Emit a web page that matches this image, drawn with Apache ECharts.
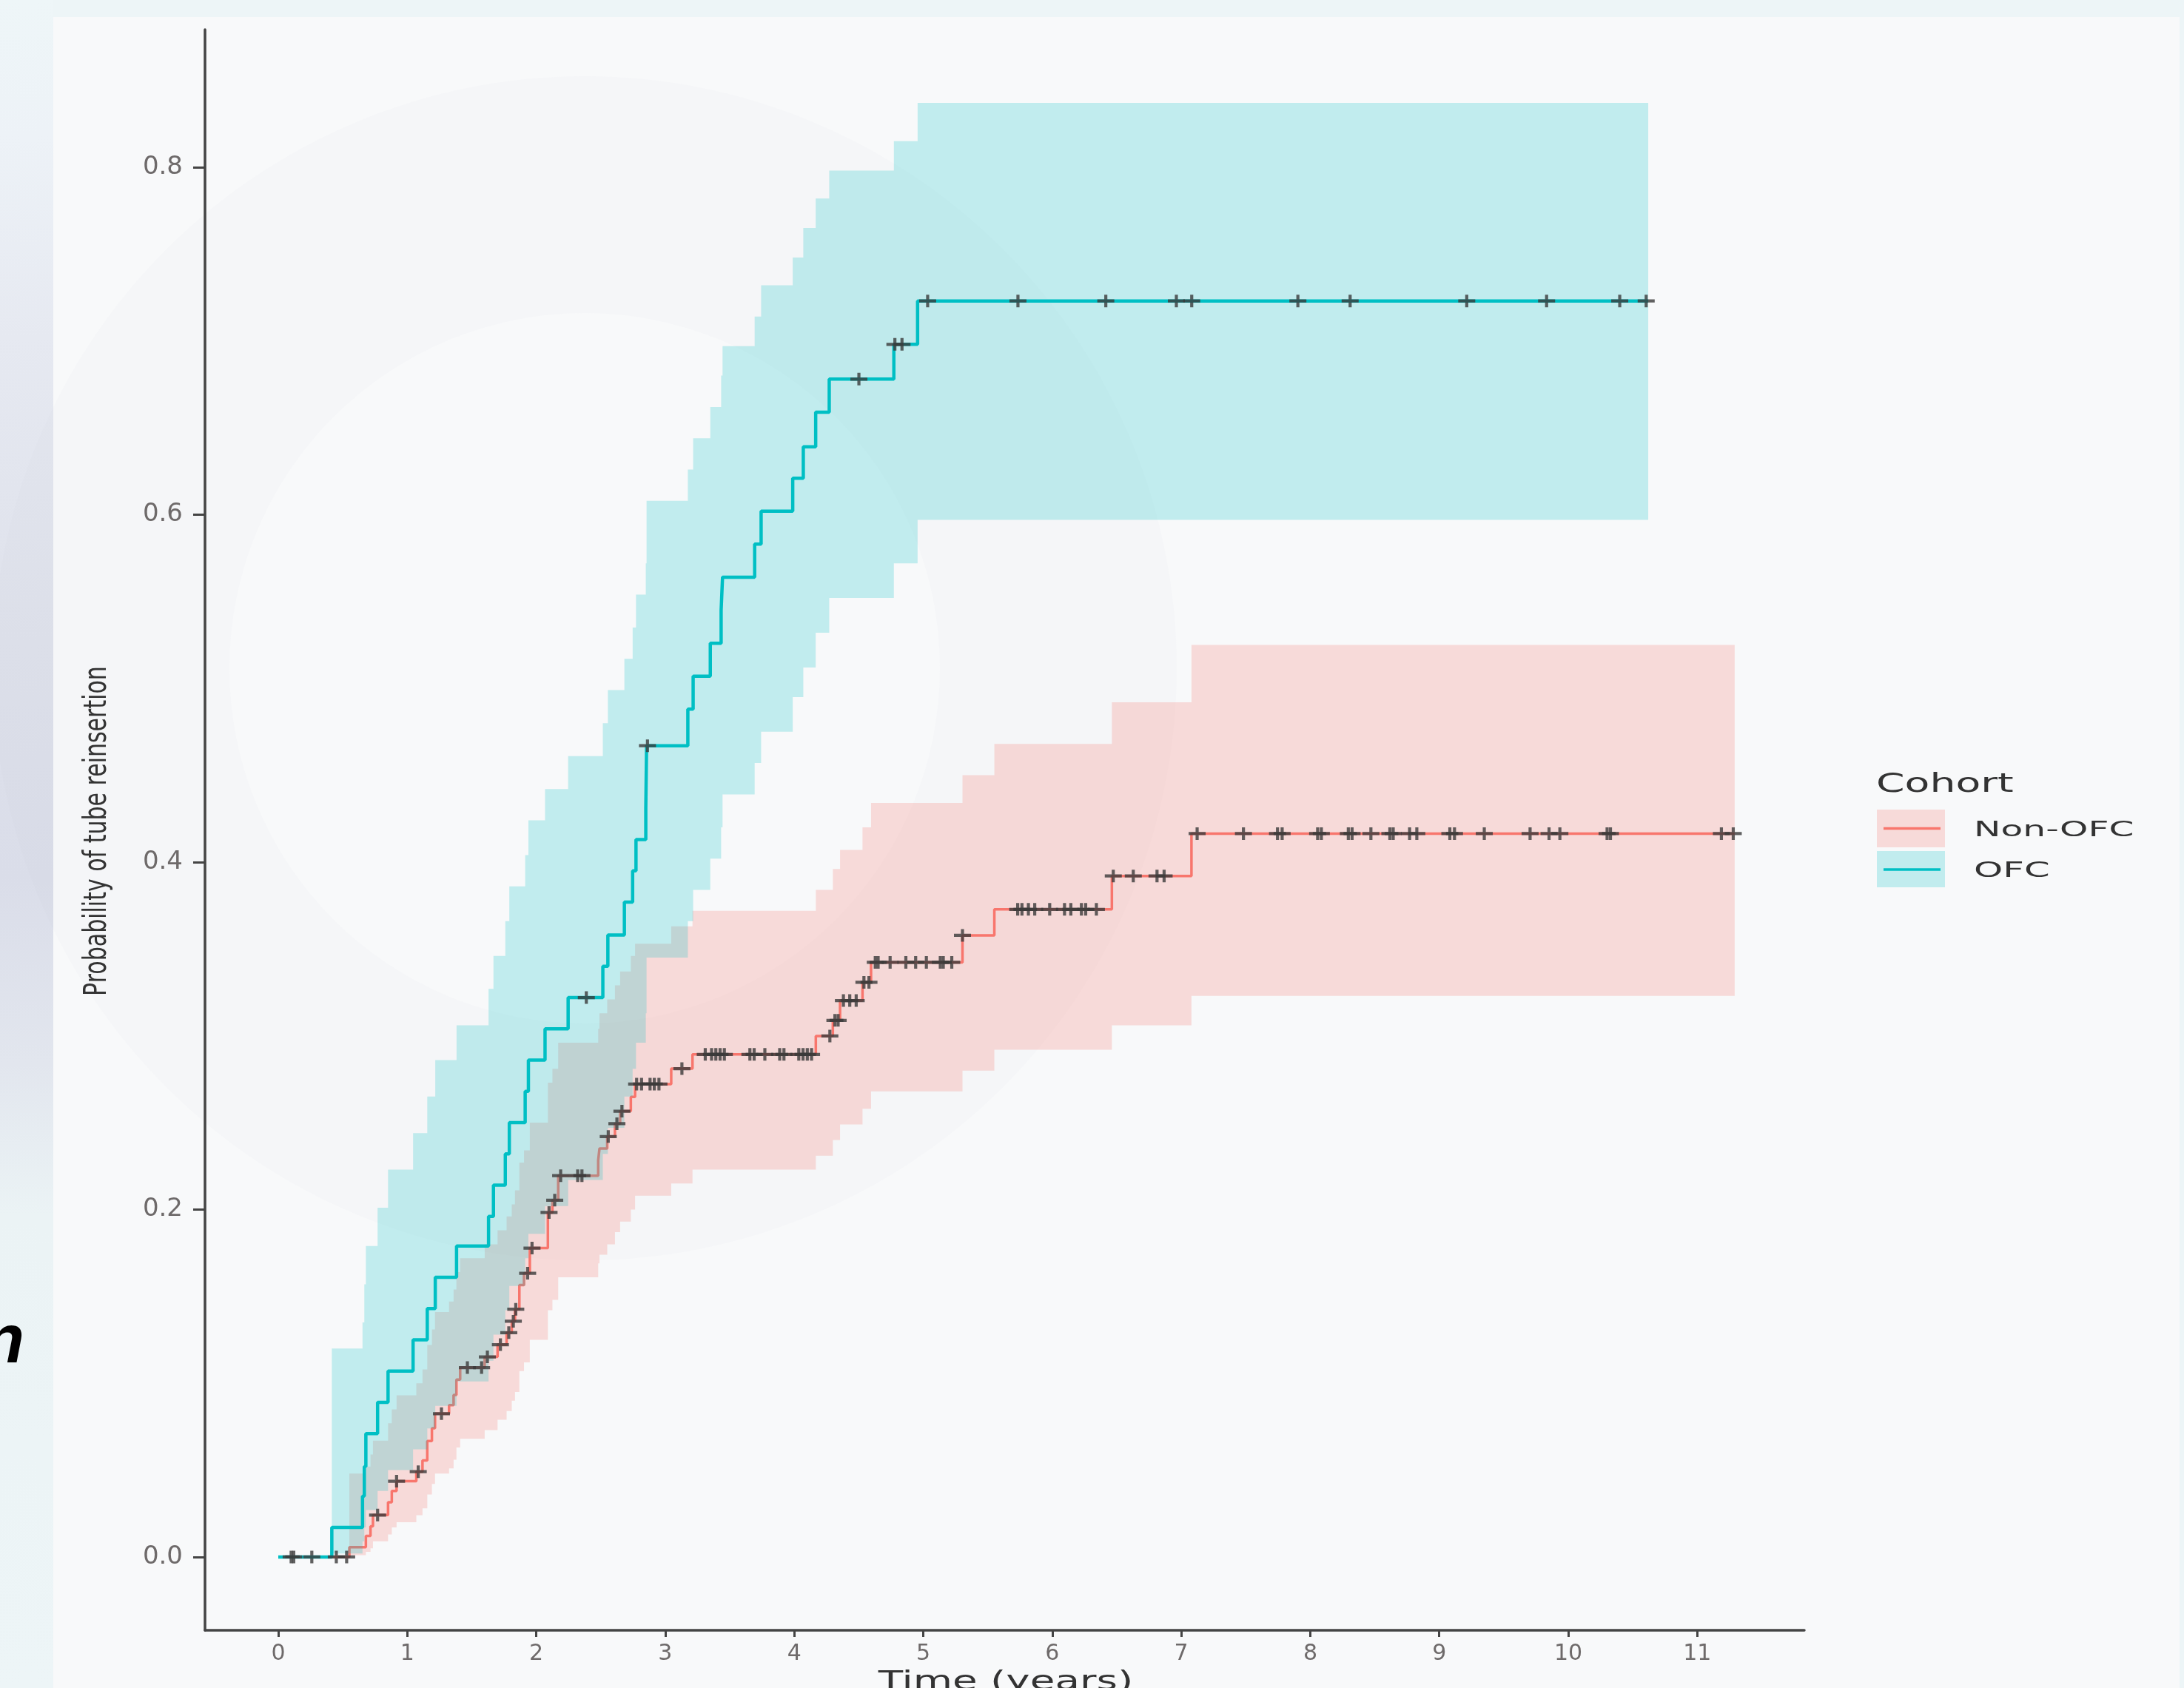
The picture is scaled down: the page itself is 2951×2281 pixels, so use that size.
<!DOCTYPE html>
<html>
<head>
<meta charset="utf-8">
<title>Probability of tube reinsertion</title>
<script src="https://cdn.jsdelivr.net/npm/echarts@6/dist/echarts.min.js"></script>
<style>
  html, body { margin: 0; padding: 0; background: #edf5f7; }
  #main { width: 2951px; height: 2281px; }
</style>
</head>
<body>
<div id="main"></div>
<script>
// axis ticks
var xTicks = [0, 1, 2, 3, 4, 5, 6, 7, 8, 9, 10, 11];
var yTicks = [0, 0.2, 0.4, 0.6, 0.8];

// OFC cohort: step times (years), cumulative probability, 95% CI
var ofcTime  = [0, 0.415, 0.653, 0.667, 0.679, 0.770, 0.851, 1.045, 1.155, 1.217,
                1.382, 1.630, 1.668, 1.760, 1.791, 1.914, 1.939, 2.068, 2.247, 2.516,
                2.555, 2.683, 2.747, 2.773, 2.849, 2.855, 3.175, 3.216, 3.349, 3.433,
                3.444, 3.693, 3.743, 3.988, 4.070, 4.166, 4.271, 4.772, 4.956, 10.62];
var ofcProb  = [0, 0.017, 0.035, 0.052, 0.071, 0.089, 0.107, 0.125, 0.143, 0.161,
                0.179, 0.196, 0.214, 0.232, 0.250, 0.268, 0.286, 0.304, 0.322, 0.340,
                0.358, 0.377, 0.395, 0.413, 0.431, 0.467, 0.488, 0.507, 0.526, 0.545,
                0.564, 0.583, 0.602, 0.621, 0.639, 0.659, 0.678, 0.698, 0.723, 0.723];
var ofcLower = [0, 0.002, 0.009, 0.017, 0.027, 0.038, 0.050, 0.062, 0.074, 0.087,
                0.101, 0.113, 0.128, 0.142, 0.156, 0.172, 0.186, 0.202, 0.217, 0.232,
                0.247, 0.265, 0.281, 0.296, 0.313, 0.345, 0.366, 0.384, 0.402, 0.420,
                0.439, 0.457, 0.475, 0.495, 0.512, 0.532, 0.552, 0.572, 0.597, 0.597];
var ofcUpper = [0, 0.120, 0.135, 0.157, 0.179, 0.201, 0.223, 0.244, 0.265, 0.286,
                0.306, 0.327, 0.346, 0.366, 0.386, 0.404, 0.424, 0.442, 0.461, 0.480,
                0.499, 0.517, 0.535, 0.554, 0.572, 0.608, 0.626, 0.644, 0.662, 0.680,
                0.697, 0.714, 0.732, 0.748, 0.765, 0.782, 0.798, 0.815, 0.837, 0.837];
var ofcCensor = [0.10, 2.388, 2.862, 4.501, 4.780, 4.835, 5.034, 5.734, 6.415, 6.962,
                 7.081, 7.904, 8.309, 9.213, 9.832, 10.399, 10.604];

// Non-OFC cohort
var nonTime  = [0, 0.551, 0.679, 0.715, 0.734, 0.851, 0.880, 0.917, 1.070, 1.118,
                1.155, 1.191, 1.215, 1.324, 1.359, 1.381, 1.410, 1.600, 1.700, 1.770,
                1.810, 1.835, 1.869, 1.905, 1.950, 2.090, 2.125, 2.170, 2.480, 2.490,
                2.550, 2.610, 2.650, 2.733, 2.766, 3.046, 3.211, 4.167, 4.299, 4.355,
                4.529, 4.595, 5.304, 5.551, 6.462, 7.079, 11.29];
var nonProb  = [0, 0.0056, 0.0121, 0.0177, 0.0241, 0.0315, 0.0380, 0.0436, 0.0491, 0.0556,
                0.0667, 0.0741, 0.0825, 0.0874, 0.0933, 0.1021, 0.1090, 0.1152, 0.1222, 0.1291,
                0.1357, 0.1426, 0.1565, 0.1633, 0.1778, 0.1983, 0.2054, 0.2195, 0.2283, 0.2351,
                0.2420, 0.2494, 0.2566, 0.2648, 0.2722, 0.2811, 0.2893, 0.2999, 0.3089, 0.3203,
                0.3308, 0.3423, 0.3578, 0.3728, 0.3920, 0.4164, 0.4164];
var nonLower = [0, 0.001, 0.003, 0.005, 0.009, 0.013, 0.017, 0.020, 0.024, 0.028,
                0.036, 0.042, 0.048, 0.051, 0.056, 0.063, 0.068, 0.073, 0.079, 0.084,
                0.090, 0.095, 0.107, 0.112, 0.125, 0.142, 0.148, 0.161, 0.169, 0.174,
                0.180, 0.187, 0.193, 0.200, 0.208, 0.215, 0.223, 0.231, 0.240, 0.249,
                0.258, 0.268, 0.280, 0.292, 0.306, 0.323, 0.323];
var nonUpper = [0, 0.048, 0.052, 0.059, 0.067, 0.077, 0.085, 0.093, 0.100, 0.108,
                0.122, 0.131, 0.141, 0.147, 0.154, 0.164, 0.172, 0.180, 0.188, 0.196,
                0.203, 0.211, 0.227, 0.234, 0.250, 0.273, 0.281, 0.296, 0.304, 0.313,
                0.321, 0.329, 0.337, 0.346, 0.353, 0.363, 0.372, 0.384, 0.396, 0.407,
                0.420, 0.434, 0.450, 0.468, 0.492, 0.525, 0.525];
var nonCensor = [0.12, 0.26, 0.45, 0.53, 0.770, 0.917, 1.085, 1.265, 1.466, 1.576,
                 1.621, 1.722, 1.787, 1.822, 1.841, 1.933, 1.967, 2.099, 2.143, 2.189,
                 2.321, 2.354, 2.558, 2.625, 2.664, 2.778, 2.816, 2.882, 2.915, 2.951,
                 3.129, 3.310, 3.359, 3.392, 3.425, 3.458, 3.656, 3.689, 3.772, 3.887,
                 3.920, 4.035, 4.068, 4.101, 4.134, 4.276, 4.315, 4.340, 4.381, 4.430,
                 4.480, 4.540, 4.579, 4.628, 4.650, 4.743, 4.865, 4.941, 5.024, 5.132,
                 5.155, 5.221, 5.304, 5.732, 5.765, 5.815, 5.864, 5.980, 6.095, 6.144,
                 6.226, 6.259, 6.342, 6.473, 6.628, 6.812, 6.867, 7.123, 7.482, 7.746,
                 7.782, 8.057, 8.086, 8.295, 8.324, 8.470, 8.617, 8.643, 8.770, 8.826,
                 9.082, 9.118, 9.349, 9.704, 9.851, 9.935, 10.301, 10.327, 11.187, 11.279];

var colNon = '#F8766D', colOfc = '#00BFC4';
var plus = 'path://M9,0H13V6H22V10H13V16H9V10H0V6H9Z';

function pairs(times, vals) {
    return times.map(function (t, i) { return [t, vals[i]]; });
}
// value of the step curve at time t (censor marks sit on the curve)
function stepAt(times, vals, t) {
    var v = vals[0];
    for (var i = 0; i < times.length; i++) {
        if (times[i] <= t + 1e-9) v = vals[i]; else break;
    }
    return v;
}
// confidence ribbon: one stepped polygon, upper edge forward then lower edge back
function band(times, lower, upper, fill, z) {
    return {
        type: 'custom', z: z, silent: true,
        data: [[times[0], lower[0]]],
        renderItem: function (params, api) {
            var pts = [], i, n = times.length;
            for (i = 0; i < n - 1; i++) {
                pts.push(api.coord([times[i], upper[i]]), api.coord([times[i + 1], upper[i]]));
            }
            for (i = n - 2; i >= 0; i--) {
                pts.push(api.coord([times[i + 1], lower[i]]), api.coord([times[i], lower[i]]));
            }
            return { type: 'polygon', shape: { points: pts }, style: { fill: fill } };
        }
    };
}
function curve(times, probs, color, width, z) {
    return {
        type: 'line', step: 'end', z: z, data: pairs(times, probs),
        showSymbol: false, silent: true,
        lineStyle: { color: color, width: width }
    };
}
function marks(times, probs, censor, z) {
    return {
        type: 'scatter', z: z, silent: true,
        symbol: plus, symbolSize: [23, 17],
        itemStyle: { color: '#3a3a3a' },
        data: censor.map(function (t) { return [t, stepAt(times, probs, t)]; })
    };
}

var myChart = echarts.init(document.getElementById('main'));

var series = [
    band(nonTime, nonLower, nonUpper, 'rgba(248,118,109,0.23)', 2),
    curve(nonTime, nonProb, colNon, 3.5, 3),
    band(ofcTime, ofcLower, ofcUpper, 'rgba(0,191,196,0.22)', 4),
    curve(ofcTime, ofcProb, colOfc, 4.5, 5),
    marks(nonTime, nonProb, nonCensor, 6),
    marks(ofcTime, ofcProb, ofcCensor, 6)
];

var axisCol = '#444';

myChart.setOption({
    animation: false,
    backgroundColor: 'transparent',
    grid: { left: 277, right: 513, top: 40, bottom: 78, containLabel: false, outerBoundsMode: 'none' },
    xAxis: {
        type: 'value', min: -0.568, max: 11.83,
        splitLine: { show: false },
        axisLine: { show: true, onZero: false, lineStyle: { color: axisCol, width: 3.5 } },
        axisTick: { show: true, customValues: xTicks, length: 9, lineStyle: { color: axisCol, width: 3 } },
        axisLabel: {
            customValues: xTicks, margin: 17, fontSize: 30, fontFamily: 'DejaVu Sans', color: '#6e6a6a',
            formatter: function (v) { return String(Math.round(v)); }
        }
    },
    yAxis: {
        type: 'value', min: -0.0422, max: 0.8792,
        splitLine: { show: false },
        axisLine: { show: true, onZero: false, lineStyle: { color: axisCol, width: 3.5 } },
        axisTick: { show: true, customValues: yTicks, length: 16, lineStyle: { color: axisCol, width: 3 } },
        axisLabel: {
            customValues: yTicks, margin: 30, fontSize: 34, fontFamily: 'DejaVu Sans', color: '#6e6a6a',
            formatter: function (v) { return v.toFixed(1); }
        }
    },
    graphic: [
        // slide background, panel and faint decorative ring
        { type: 'rect', z: -30, silent: true, shape: { x: 0, y: 0, width: 2951, height: 2281 }, style: { fill: '#edf5f7' } },
        { type: 'rect', z: -29, silent: true, shape: { x: 0, y: 0, width: 72, height: 2281 },
          style: { fill: new echarts.graphic.LinearGradient(0, 0, 0, 1, [
              { offset: 0, color: '#eef6f8' }, { offset: 0.08, color: '#edf2f7' },
              { offset: 0.2, color: '#e6e9f1' }, { offset: 0.38, color: '#dee1eb' },
              { offset: 0.52, color: '#dadde9' }, { offset: 0.63, color: '#e2e6ee' },
              { offset: 0.72, color: '#ebf3f5' }, { offset: 1, color: '#edf5f7' }]) } },
        { type: 'rect', z: -28, silent: true, shape: { x: 72, y: 23, width: 2873, height: 2258 }, style: { fill: '#f8f9fa' } },
        { type: 'ring', z: -27, silent: true, shape: { cx: 790, cy: 903, r: 800, r0: 480 },
          style: { fill: 'rgba(175,175,198,0.045)' } },
        { type: 'text', z: -26, silent: true, x: 33, y: 1816,
          style: { text: 'n', x: 0, y: 0, textAlign: 'right', textVerticalAlign: 'middle',
                   font: 'italic bold 92px "Liberation Sans"', fill: '#000' } },
        // axis titles
        { type: 'text', z: 20, silent: true, x: 132, y: 1123, rotation: Math.PI / 2, scaleY: 1.4,
          style: { text: 'Probability of tube reinsertion', x: 0, y: 0, textAlign: 'center', textVerticalAlign: 'middle',
                   font: '30px "DejaVu Sans"', fill: '#333' } },
        { type: 'text', z: 20, silent: true, x: 1359, y: 2256, scaleX: 1.52,
          style: { text: 'Time (years)', x: 0, y: 0, textAlign: 'center', textVerticalAlign: 'top',
                   font: '36px "DejaVu Sans"', fill: '#333' } },
        // legend
        { type: 'text', z: 20, silent: true, x: 2535, y: 1061, scaleX: 1.58,
          style: { text: 'Cohort', x: 0, y: 0, textAlign: 'left', textVerticalAlign: 'middle',
                   font: '35px "DejaVu Sans"', fill: '#333' } },
        { type: 'rect', z: 20, silent: true, shape: { x: 2536, y: 1094, width: 92, height: 51 }, style: { fill: 'rgba(248,118,109,0.23)' } },
        { type: 'line', z: 21, silent: true, shape: { x1: 2545, y1: 1119.5, x2: 2622, y2: 1119.5 }, style: { stroke: colNon, lineWidth: 3.5 } },
        { type: 'rect', z: 20, silent: true, shape: { x: 2536, y: 1150, width: 92, height: 49 }, style: { fill: 'rgba(0,191,196,0.22)' } },
        { type: 'line', z: 21, silent: true, shape: { x1: 2545, y1: 1175, x2: 2622, y2: 1175 }, style: { stroke: colOfc, lineWidth: 3.5 } },
        { type: 'text', z: 20, silent: true, x: 2667, y: 1122, scaleX: 1.68,
          style: { text: 'Non-OFC', x: 0, y: 0, textAlign: 'left', textVerticalAlign: 'middle',
                   font: '29px "DejaVu Sans"', fill: '#333' } },
        { type: 'text', z: 20, silent: true, x: 2667, y: 1177.5, scaleX: 1.72,
          style: { text: 'OFC', x: 0, y: 0, textAlign: 'left', textVerticalAlign: 'middle',
                   font: '29px "DejaVu Sans"', fill: '#333' } }
    ],
    series: series
});
</script>
</body>
</html>
